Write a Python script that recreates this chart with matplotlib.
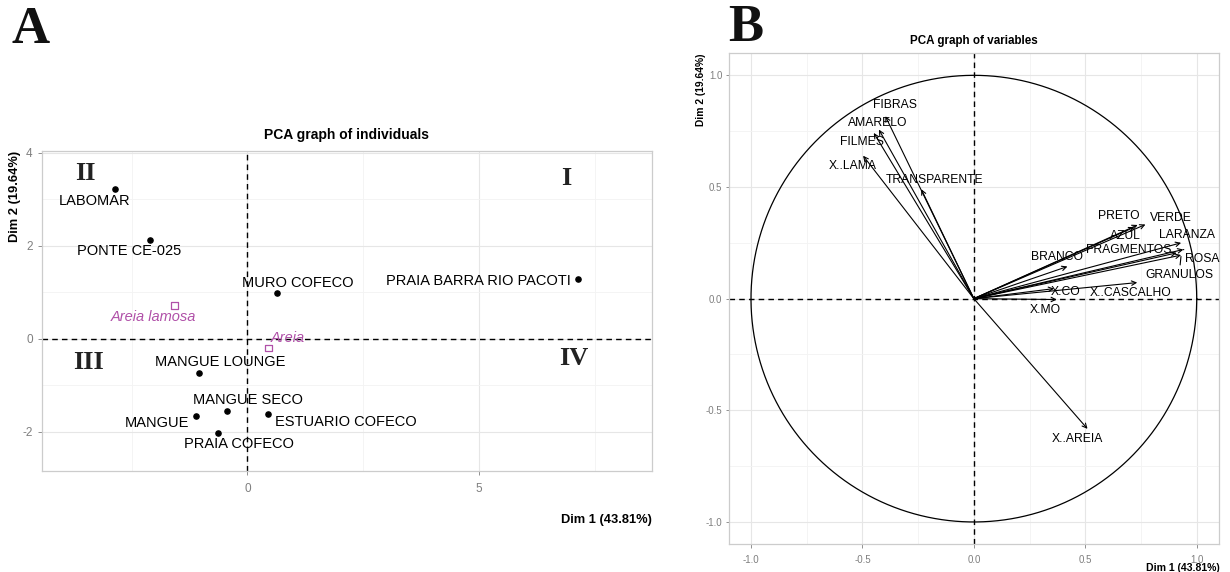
import matplotlib
matplotlib.use("Agg")
import matplotlib.pyplot as plt
from matplotlib.ticker import FixedLocator
import numpy as np

plt.rcParams['font.family'] = ['Liberation Sans', 'DejaVu Sans']
plt.rcParams['axes.unicode_minus'] = False

# ---------------- Data: panel A (individuals) ----------------
ind_names = ["LABOMAR", "PONTE CE-025", "MURO COFECO", "PRAIA BARRA RIO PACOTI",
             "MANGUE LOUNGE", "MANGUE SECO", "MANGUE", "ESTUARIO COFECO", "PRAIA COFECO"]
ind_dim1 = [-2.85, -2.10, 0.64, 7.14, -1.04, -0.44, -1.10, 0.44, -0.64]
ind_dim2 = [3.21, 2.13, 0.98, 1.28, -0.73, -1.56, -1.67, -1.63, -2.02]
ind_label_offsets = [(-21, -12), (-21, -11), (21, 10), (-100, -2), (21, 11),
                     (21, 11), (-39, -7), (78, -8), (21, -11)]

sup_names = ["Areia lamosa", "Areia"]
sup_dim1 = [-1.57, 0.46]
sup_dim2 = [0.71, -0.20]
sup_label_offsets = [(-21, -11), (19, 10)]

quadrant_labels = ["I", "II", "III", "IV"]
quadrant_x = [6.88, -3.50, -3.44, 7.05]
quadrant_y = [3.45, 3.56, -0.51, -0.42]

# ---------------- Data: panel B (variables) ----------------
var_names = ["FIBRAS", "AMARELO", "FILMES", "X..LAMA", "TRANSPARENTE", "PRETO", "VERDE",
             "AZUL", "LARANZA", "FRAGMENTOS", "ROSA", "GRANULOS", "BRANCO",
             "X..CASCALHO", "X.CO", "X.MO", "X..AREIA"]
var_dim1 = [-0.397, -0.426, -0.449, -0.497, -0.236, 0.735, 0.770,
            0.720, 0.930, 0.910, 0.940, 0.930, 0.420,
            0.733, 0.360, 0.372, 0.510]
var_dim2 = [0.817, 0.757, 0.742, 0.640, 0.490, 0.330, 0.332,
            0.320, 0.250, 0.205, 0.220, 0.195, 0.144,
            0.072, 0.045, -0.004, -0.583]
var_label_offsets = [(10, 11), (-1, 7), (-12, -9), (-10, -10), (13, 9), (-19, 9), (25, 7),
                     (-9, -9), (6, 8), (-48, 3), (19, -9), (-2, -20), (-10, 9),
                     (-7, -10), (12, -3), (-11, -10), (-10, -10)]
var_with_segment = ["ROSA", "GRANULOS"]

W, H = 1230, 572
fig = plt.figure(figsize=(W / 100, H / 100), dpi=100)

def fx(px):
    return px / W

def fy(py):
    return 1 - py / H

border_col = '#CCCCCC'
major_col = '#E6E6E6'
minor_col = '#F3F3F3'
tick_col = '#7F7F7F'

def style_axes(ax, tick_size):
    for s in ax.spines.values():
        s.set_color(border_col)
        s.set_linewidth(0.9)
    ax.grid(True, which='major', color=major_col, lw=0.8, zorder=0)
    ax.grid(True, which='minor', color=minor_col, lw=0.6, zorder=0)
    ax.tick_params(which='major', colors=tick_col, labelsize=tick_size, length=3, width=0.6)
    ax.tick_params(which='minor', length=0)
    ax.set_axisbelow(True)

# ---------------- Panel A ----------------
axA = fig.add_axes([fx(41.7), fy(470.7), fx(652.3) - fx(41.7), fy(150.7) - fy(470.7)])
axA.set_xlim(-4.44, 8.74)
axA.set_ylim(-2.84, 4.04)
axA.xaxis.set_major_locator(FixedLocator([0, 5]))
axA.xaxis.set_minor_locator(FixedLocator([-2.5, 2.5, 7.5]))
axA.yaxis.set_major_locator(FixedLocator([-2, 0, 2, 4]))
axA.yaxis.set_minor_locator(FixedLocator([-1, 1, 3]))
style_axes(axA, 8.5)
axA.tick_params(axis='x', pad=6)

axA.axhline(0, color='black', lw=1.0, ls=(0, (4, 3)), zorder=2)
axA.axvline(0, color='black', lw=1.0, ls=(0, (4, 3)), zorder=2)

axA.scatter(ind_dim1, ind_dim2, s=14, color='black', zorder=3)
for n, x, y, off in zip(ind_names, ind_dim1, ind_dim2, ind_label_offsets):
    axA.annotate(n, (x, y), xytext=off, textcoords='offset pixels',
                 ha='center', va='center', fontsize=10.5, color='black', zorder=4)

sup_col = '#B050A8'
axA.scatter(sup_dim1, sup_dim2, s=22, marker='s', facecolors='none',
            edgecolors=sup_col, linewidths=0.9, zorder=3)
for n, x, y, off in zip(sup_names, sup_dim1, sup_dim2, sup_label_offsets):
    axA.annotate(n, (x, y), xytext=off, textcoords='offset pixels',
                 ha='center', va='center', fontsize=10.5, color=sup_col,
                 style='italic', zorder=4)

for q, x, y in zip(quadrant_labels, quadrant_x, quadrant_y):
    axA.text(x, y, q, ha='center', va='center', fontsize=19, fontweight='bold',
             family='Liberation Serif', color='#222222', zorder=4)

fig.text(fx(347), fy(135), "PCA graph of individuals", ha='center', va='center',
         fontsize=10, fontweight='bold')
fig.text(fx(652.3), fy(520), "Dim 1 (43.81%)", ha='right', va='center',
         fontsize=9.3, fontweight='bold')
fig.text(fx(15), fy(150.7), "Dim 2 (19.64%)", ha='center', va='top', rotation=90,
         fontsize=9.3, fontweight='bold')
fig.text(fx(31), fy(30), "A", ha='center', va='center', fontsize=38,
         fontweight='bold', family='Liberation Serif', color='#111111')

# ---------------- Panel B ----------------
axB = fig.add_axes([fx(728.7), fy(544.3), fx(1219) - fx(728.7), fy(53) - fy(544.3)])
axB.set_xlim(-1.1, 1.1)
axB.set_ylim(-1.1, 1.1)
axB.xaxis.set_major_locator(FixedLocator([-1.0, -0.5, 0.0, 0.5, 1.0]))
axB.yaxis.set_major_locator(FixedLocator([-1.0, -0.5, 0.0, 0.5, 1.0]))
axB.xaxis.set_minor_locator(FixedLocator([-0.75, -0.25, 0.25, 0.75]))
axB.yaxis.set_minor_locator(FixedLocator([-0.75, -0.25, 0.25, 0.75]))
axB.xaxis.set_major_formatter(plt.FuncFormatter(lambda v, p: f"{v:.1f}"))
axB.yaxis.set_major_formatter(plt.FuncFormatter(lambda v, p: f"{v:.1f}"))
style_axes(axB, 7)
axB.tick_params(axis='x', pad=5)
axB.tick_params(axis='y', pad=2, length=2.5)

axB.axhline(0, color='black', lw=1.0, ls=(0, (4, 3)), zorder=2)
axB.axvline(0, color='black', lw=1.0, ls=(0, (4, 3)), zorder=2)
theta = np.linspace(0, 2 * np.pi, 400)
axB.plot(np.cos(theta), np.sin(theta), color='black', lw=0.9, zorder=2)

for n, x, y, off in zip(var_names, var_dim1, var_dim2, var_label_offsets):
    axB.annotate('', xy=(x, y), xytext=(0, 0),
                 arrowprops=dict(arrowstyle='->', lw=0.8, color='black',
                                 shrinkA=0, shrinkB=0, mutation_scale=8), zorder=3)
    if n in var_with_segment:
        axB.annotate(n, (x, y), xytext=off, textcoords='offset pixels',
                     ha='center', va='center', fontsize=8.7, zorder=4,
                     arrowprops=dict(arrowstyle='-', lw=0.8, color='black',
                                     shrinkA=1, shrinkB=1))
    else:
        axB.annotate(n, (x, y), xytext=off, textcoords='offset pixels',
                     ha='center', va='center', fontsize=8.7, zorder=4)

fig.text(fx(973.6), fy(41.2), "PCA graph of variables", ha='center', va='center',
         fontsize=8.4, fontweight='bold')
fig.text(fx(1220), fy(568), "Dim 1 (43.81%)", ha='right', va='center',
         fontsize=7.6, fontweight='bold')
fig.text(fx(701), fy(53), "Dim 2 (19.64%)", ha='center', va='top', rotation=90,
         fontsize=7.4, fontweight='bold')
fig.text(fx(745.6), fy(28), "B", ha='center', va='center', fontsize=38,
         fontweight='bold', family='Liberation Serif', color='#111111')

fig.savefig("out.png", dpi=100)
